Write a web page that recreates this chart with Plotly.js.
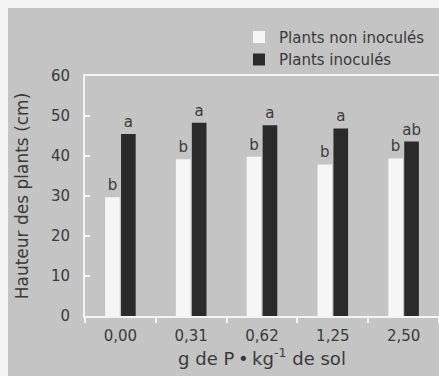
<!DOCTYPE html>
<html>
<head>
<meta charset="utf-8">
<script src="https://cdn.plot.ly/plotly-3.0.1.min.js"></script>
<style>
html,body{margin:0;padding:0;background:#f4f4f4;}
#chart{position:absolute;left:8px;top:8px;width:431px;height:368px;}
</style>
</head>
<body>
<div id="chart"></div>
<script>
const categories = ["0,00", "0,31", "0,62", "1,25", "2,50"];
const nonInocules = [29.7, 39.2, 39.8, 37.9, 39.4];
const inocules = [45.5, 48.3, 47.7, 46.9, 43.6];
const lettersNon = ["b", "b", "b", "b", "b"];
const lettersIno = ["a", "a", "a", "a", "ab"];
const yTicks = [0, 10, 20, 30, 40, 50, 60];

const gray = "#c4c4c4";
const txt = "#3a3a3a";
const font = "DejaVu Sans, sans-serif";

const traces = [
  {
    type: "bar", name: "Plants non inoculés", x: categories, y: nonInocules,
    text: lettersNon, textposition: "outside", cliponaxis: false, constraintext: "none",
    textfont: {family: font, size: 15, color: txt},
    marker: {color: "#f6f6f6", line: {width: 0}}
  },
  {
    type: "bar", name: "Plants inoculés", x: categories, y: inocules,
    text: lettersIno, textposition: "outside", cliponaxis: false, constraintext: "none",
    textfont: {family: font, size: 15, color: txt},
    marker: {color: "#2a2a2a", line: {width: 0}}
  }
];

const layout = {
  width: 431, height: 368,
  margin: {l: 77, r: 0, t: 68, b: 60, pad: 0},
  paper_bgcolor: gray, plot_bgcolor: gray,
  font: {family: font, size: 15, color: txt},
  barmode: "group", bargap: 0.55, bargroupgap: 0.08,
  showlegend: true,
  legend: {
    x: 0.435, y: 1.23, xanchor: "left", yanchor: "top",
    bgcolor: "rgba(0,0,0,0)", font: {family: font, size: 15, color: txt},
    tracegroupgap: 0, itemwidth: 30
  },
  xaxis: {
    type: "category", range: [-0.5, 4.5],
    showline: true, linecolor: "#f4f4f4", linewidth: 2, mirror: true,
    ticks: "outside", tickson: "boundaries", ticklen: 5, tickcolor: "#f4f4f4", tickwidth: 2,
    ticklabelstandoff: 5,
    showgrid: false, zeroline: false,
    tickfont: {family: font, size: 15, color: txt},
    title: {text: "g de P\u2009\u2022\u2009kg<sup>-1</sup> de sol", font: {family: font, size: 18, color: txt}, standoff: 6}
  },
  yaxis: {
    range: [0, 60], tickvals: yTicks,
    showline: true, linecolor: "#f4f4f4", linewidth: 2,
    ticks: "inside", ticklen: 5, tickcolor: "#f4f4f4", tickwidth: 2,
    ticklabelstandoff: 10,
    showgrid: false, zeroline: false,
    tickfont: {family: font, size: 15, color: txt},
    title: {text: "Hauteur des plants (cm)", font: {family: font, size: 17, color: txt}, standoff: 18}
  }
};

Plotly.newPlot("chart", traces, layout, {displayModeBar: false, staticPlot: true});
</script>
</body>
</html>
